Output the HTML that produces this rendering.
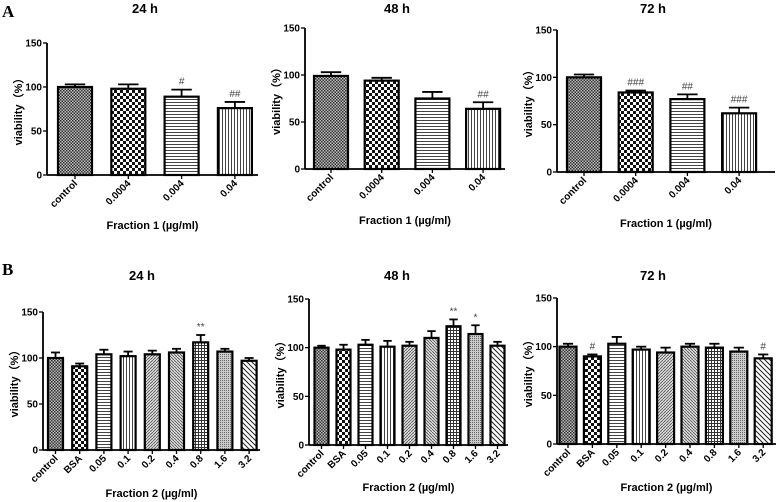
<!DOCTYPE html>
<html><head><meta charset="utf-8"><style>
html,body{margin:0;padding:0;background:#fff;width:778px;height:502px;overflow:hidden}
svg{display:block;font-family:"Liberation Sans",Arial,sans-serif}
</style></head><body>
<svg id="fig" width="778" height="502" viewBox="0 0 778 502">
<defs>
<pattern id="p-control" width="3" height="3" patternUnits="userSpaceOnUse"><rect width="3" height="3" fill="#bbb"/><rect width="1.5" height="1.5" fill="#333"/><rect x="1.5" y="1.5" width="1.5" height="1.5" fill="#333"/></pattern>
<pattern id="p-check" width="6" height="6" patternUnits="userSpaceOnUse"><rect width="6" height="6" fill="#fff"/><rect width="3" height="3" fill="#111"/><rect x="3" y="3" width="3" height="3" fill="#111"/></pattern>
<pattern id="p-hline" width="4" height="3" patternUnits="userSpaceOnUse"><rect width="4" height="3" fill="#fff"/><rect width="4" height="1" fill="#444"/></pattern>
<pattern id="p-vline" width="3" height="4" patternUnits="userSpaceOnUse"><rect width="3" height="4" fill="#fff"/><rect width="1" height="4" fill="#444"/></pattern>
<pattern id="p-diag1" width="3" height="3" patternUnits="userSpaceOnUse"><rect width="3" height="3" fill="#ddd"/><path d="M0,3 L3,0" stroke="#555" stroke-width="0.8"/></pattern>
<pattern id="p-diag2" width="3" height="3" patternUnits="userSpaceOnUse"><rect width="3" height="3" fill="#ddd"/><path d="M0,0 L3,3" stroke="#555" stroke-width="0.8"/></pattern>
<pattern id="p-grid" width="3" height="3" patternUnits="userSpaceOnUse"><rect width="3" height="3" fill="#fff"/><rect width="3" height="1" fill="#333"/><rect width="1" height="3" fill="#333"/></pattern>
<pattern id="p-dots" width="2" height="2" patternUnits="userSpaceOnUse"><rect width="2" height="2" fill="#ccc"/><rect width="1" height="1" fill="#666"/></pattern>
<pattern id="p-wdiag" width="5" height="5" patternUnits="userSpaceOnUse"><rect width="5" height="5" fill="#fff"/><path d="M0,0 L5,5 M-1,4 L1,6 M4,-1 L6,1" stroke="#222" stroke-width="1"/></pattern>
</defs>
<text x="2" y="17" font-family="Liberation Serif,serif" font-weight="bold" font-size="17">A</text>
<text x="2" y="275" font-family="Liberation Serif,serif" font-weight="bold" font-size="17">B</text>
</svg>
<script>
var catsA = ["control","0.0004","0.004","0.04"];
var catsB = ["control","BSA","0.05","0.1","0.2","0.4","0.8","1.6","3.2"];
var valsA24 = [100,98,89,76], errA24 = [3,5,8,7], sigA24 = ["","","#","##"];
var valsA48 = [99,94,75,64], errA48 = [4,3,7,7], sigA48 = ["","","","##"];
var valsA72 = [100,84,77,62], errA72 = [3,2,5,6], sigA72 = ["","###","##","###"];
var valsB24 = [100,91,104,102,104,106,117,107,97], errB24 = [6,3,5,5,4,4,8,3,3], sigB24 = ["","","","","","","**","",""];
var valsB48 = [100,98,103,101,102,110,122,114,102], errB48 = [2,5,5,6,4,7,7,9,4], sigB48 = ["","","","","","","**","*",""];
var valsB72 = [100,90,103,97,94,100,99,95,88], errB72 = [3,2,7,3,5,3,4,4,4], sigB72 = ["","#","","","","","","","#"];
var yTicks = [0,50,100,150];
var patA = ["p-control","p-check","p-hline","p-vline"];
var patB = ["p-control","p-check","p-hline","p-vline","p-diag1","p-diag2","p-grid","p-dots","p-wdiag"];
var NS="http://www.w3.org/2000/svg", svg=document.getElementById('fig');
function mk(t,a,p){var e=document.createElementNS(NS,t);for(var k in a)e.setAttribute(k,a[k]);(p||svg).appendChild(e);return e;}
function panel(o){
  var g=mk('g',{});
  
  
  function y(v){return o.y0-(v/150)*(o.y0-o.y150);}
  function x(i){return o.x1+i*o.step;}
  var t=mk('text',{x:o.tx,y:o.ty,'text-anchor':'middle','font-weight':'bold','font-size':13},g);t.textContent=o.title;
  
  mk('line',{x1:o.ax,y1:o.y150,x2:o.ax,y2:o.y0,stroke:'#000','stroke-width':1.8},g);
  mk('line',{x1:o.ax,y1:o.y0,x2:o.xr,y2:o.y0,stroke:'#000','stroke-width':1.8},g);
  yTicks.forEach(function(v){
    mk('line',{x1:o.ax-4,y1:y(v),x2:o.ax,y2:y(v),stroke:'#000','stroke-width':1.3},g);
    var tl=mk('text',{x:o.ax-5,y:y(v)+3.5,'text-anchor':'end','font-weight':'bold','font-size':10},g);tl.textContent=v;
    
  });
  var yl=mk('text',{transform:'translate('+(o.ax-25)+','+((o.y0+o.y150)/2)+') rotate(-90)','text-anchor':'middle','font-weight':'bold','font-size':11},g);
  yl.textContent='viability（%）';
  
  o.cats.forEach(function(c,i){
    var cx=x(i), top=y(o.vals[i]), et=y(o.vals[i]+o.err[i]);
    mk('line',{x1:cx,y1:et,x2:cx,y2:top,stroke:'#000','stroke-width':1.8},g);
    mk('line',{x1:cx-o.bw*0.3,y1:et,x2:cx+o.bw*0.3,y2:et,stroke:'#000','stroke-width':1.8},g);
    var r=mk('rect',{x:cx-o.bw/2,y:top,width:o.bw,height:o.y0-top,fill:'url(#'+o.pat[i]+')',stroke:'#000','stroke-width':2.2},g);
    
    mk('line',{x1:cx,y1:o.y0,x2:cx,y2:o.y0+4,stroke:'#000','stroke-width':1.3},g);
    var tl=mk('text',{transform:'translate('+(cx+3)+','+(o.y0+9)+') rotate(-45)','text-anchor':'end','font-weight':'bold','font-size':10},g);tl.textContent=c;
    
    if(o.sig[i]){var s=mk('text',{x:cx,y:et-5,'text-anchor':'middle','font-size':10,fill:'#444'},g);s.textContent=o.sig[i];
      }
  });
  var xl=mk('text',{x:(o.ax+o.xr)/2,y:o.xly,'text-anchor':'middle','font-weight':'bold','font-size':11},g);xl.textContent=o.xlab;
  
}
var FA='Fraction 1 (\u00b5g/ml)', FB='Fraction 2 (\u00b5g/ml)';
panel({name:'chart-a-24h',title:'24 h',tx:145,ty:13,ax:47,xr:258,y0:175,y150:43,x1:75,step:53.3,bw:34,cats:catsA,vals:valsA24,err:errA24,sig:sigA24,pat:patA,xlab:FA,xly:229});
panel({name:'chart-a-48h',title:'48 h',tx:397,ty:13,ax:305,xr:505,y0:169,y150:28,x1:331,step:50.7,bw:34,cats:catsA,vals:valsA48,err:errA48,sig:sigA48,pat:patA,xlab:FA,xly:224});
panel({name:'chart-a-72h',title:'72 h',tx:653,ty:13,ax:557,xr:775,y0:172,y150:30,x1:584,step:51.7,bw:34,cats:catsA,vals:valsA72,err:errA72,sig:sigA72,pat:patA,xlab:FA,xly:227});
panel({name:'chart-b-24h',title:'24 h',tx:142,ty:280,ax:43,xr:260,y0:450,y150:312,x1:55.5,step:24.2,bw:15,cats:catsB,vals:valsB24,err:errB24,sig:sigB24,pat:patB,xlab:FB,xly:497});
panel({name:'chart-b-48h',title:'48 h',tx:397,ty:280,ax:309,xr:508,y0:445,y150:299,x1:321.5,step:22,bw:14,cats:catsB,vals:valsB48,err:errB48,sig:sigB48,pat:patB,xlab:FB,xly:491});
panel({name:'chart-b-72h',title:'72 h',tx:653,ty:280,ax:557,xr:776,y0:444,y150:298,x1:568,step:24.4,bw:17,cats:catsB,vals:valsB72,err:errB72,sig:sigB72,pat:patB,xlab:FB,xly:491});
</script>
</body></html>
